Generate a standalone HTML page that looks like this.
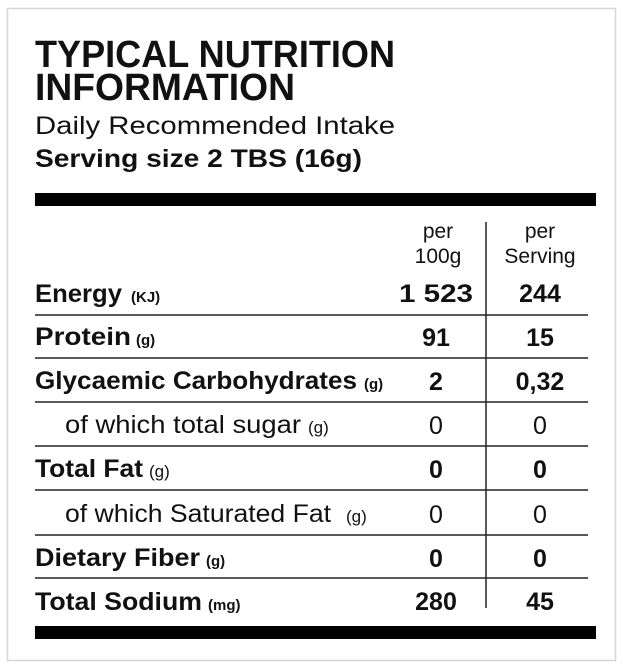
<!DOCTYPE html>
<html><head><meta charset="utf-8"><style>
html,body{margin:0;padding:0;background:#fff;}
svg{display:block;}
text{font-family:"Liberation Sans",sans-serif;fill:#111;}
.b{font-weight:bold;}
</style></head><body>
<svg width="623" height="670" viewBox="0 0 623 670">
<rect x="0" y="0" width="623" height="670" fill="#fff"/>
<rect x="7.5" y="8.5" width="608" height="652" fill="#fff" stroke="#d6d6d6" stroke-width="1.5"/>
<text x="35" y="67" class="b" font-size="38" textLength="360" lengthAdjust="spacingAndGlyphs">TYPICAL NUTRITION</text>
<text x="35" y="100" class="b" font-size="38" textLength="260" lengthAdjust="spacingAndGlyphs">INFORMATION</text>
<text x="35" y="134" font-size="25" textLength="360" lengthAdjust="spacingAndGlyphs">Daily Recommended Intake</text>
<text x="35" y="167" class="b" font-size="25" textLength="327" lengthAdjust="spacingAndGlyphs">Serving size 2 TBS (16g)</text>
<rect x="35" y="193" width="561" height="13" fill="#000"/>
<rect x="35" y="626" width="561" height="13" fill="#000"/>
<line x1="486" y1="222" x2="486" y2="608" stroke="#222" stroke-width="1.5"/>
<g stroke="#222" stroke-width="1.5">
<line x1="35" y1="315" x2="588" y2="315"/>
<line x1="35" y1="358" x2="588" y2="358"/>
<line x1="35" y1="402" x2="588" y2="402"/>
<line x1="35" y1="446" x2="588" y2="446"/>
<line x1="35" y1="490" x2="588" y2="490"/>
<line x1="35" y1="535" x2="588" y2="535"/>
<line x1="35" y1="578" x2="588" y2="578"/>
</g>
<g font-size="21" text-anchor="middle" fill="#222">
<text x="438" y="238">per</text><text x="438" y="263">100g</text>
<text x="540" y="238">per</text><text x="540" y="263">Serving</text>
</g>
<g font-size="25">
<text x="35" y="302" class="b" textLength="87" lengthAdjust="spacingAndGlyphs">Energy</text>
<text x="131" y="302" class="b" font-size="15">(KJ)</text>
<text x="35" y="345" class="b" textLength="96" lengthAdjust="spacingAndGlyphs">Protein</text>
<text x="136" y="345" class="b" font-size="15">(g)</text>
<text x="35" y="389" class="b" textLength="322" lengthAdjust="spacingAndGlyphs">Glycaemic Carbohydrates</text>
<text x="364" y="389" class="b" font-size="15">(g)</text>
<text x="65" y="433" textLength="236" lengthAdjust="spacingAndGlyphs">of which total sugar</text>
<text x="308" y="433" font-size="17">(g)</text>
<text x="35" y="477" class="b" textLength="108" lengthAdjust="spacingAndGlyphs">Total Fat</text>
<text x="149" y="477" font-size="17">(g)</text>
<text x="65" y="522" textLength="266" lengthAdjust="spacingAndGlyphs">of which Saturated Fat</text>
<text x="346" y="522" font-size="17">(g)</text>
<text x="35" y="566" class="b" textLength="165" lengthAdjust="spacingAndGlyphs">Dietary Fiber</text>
<text x="206" y="566" class="b" font-size="15">(g)</text>
<text x="35" y="610" class="b" textLength="167" lengthAdjust="spacingAndGlyphs">Total Sodium</text>
<text x="208" y="610" class="b" font-size="15">(mg)</text>
</g>
<g font-size="25" text-anchor="middle">
<text x="436" y="302" class="b" textLength="74" lengthAdjust="spacingAndGlyphs">1 523</text><text x="540" y="302" class="b">244</text>
<text x="436" y="346" class="b">91</text><text x="540" y="346" class="b">15</text>
<text x="436" y="390" class="b">2</text><text x="540" y="390" class="b">0,32</text>
<text x="436" y="434">0</text><text x="540" y="434">0</text>
<text x="436" y="478" class="b">0</text><text x="540" y="478" class="b">0</text>
<text x="436" y="523">0</text><text x="540" y="523">0</text>
<text x="436" y="567" class="b">0</text><text x="540" y="567" class="b">0</text>
<text x="436" y="610" class="b">280</text><text x="540" y="610" class="b">45</text>
</g>
</svg>
</body></html>
